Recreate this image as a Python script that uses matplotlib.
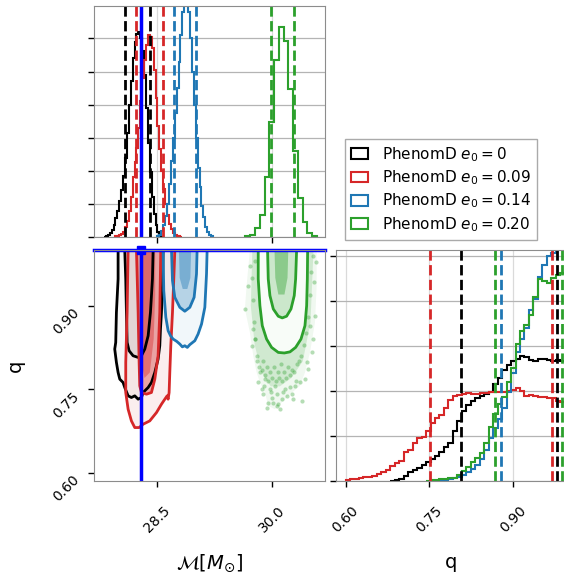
import matplotlib.pyplot as plt
import numpy as np
from matplotlib.patches import Patch

labels = [r'PhenomD $e_0 = 0$', r'PhenomD $e_0 = 0.09$',
          r'PhenomD $e_0 = 0.14$', r'PhenomD $e_0 = 0.20$']
colors = ['black', '#d62728', '#1f77b4', '#2ca02c']

truth_mc = 28.29
truth_q = 1.0

# chirp mass histograms: first bin edge, bin width, heights
mc_start = [27.800, 27.925, 28.500, 29.650]
mc_width = [0.025, 0.025, 0.025, 0.0624]
mc_black = [0.0, 0.02, 0.06, 0.11, 0.22, 0.37, 0.57, 0.80, 1.08, 1.42, 1.85, 2.40, 3.15, 3.98,
            4.72, 5.42, 5.90, 6.12, 6.19, 6.02, 5.62, 4.88, 3.90, 2.85, 1.95, 1.22, 0.68, 0.36,
            0.15, 0.05, 0.01]
mc_red = [0.01, 0.02, 0.03, 0.05, 0.08, 0.16, 0.30, 0.48, 0.78, 1.20, 1.80, 2.28, 2.70, 3.30,
          4.10, 4.80, 5.35, 5.80, 6.10, 6.05, 5.70, 5.05, 4.20, 3.35, 2.65, 2.00, 1.45, 1.00,
          0.65, 0.40, 0.24, 0.13, 0.07, 0.04, 0.02, 0.01]
mc_blue = [0.02, 0.07, 0.18, 0.35, 0.62, 1.0, 1.6, 2.3, 3.0, 3.75, 4.5, 5.3, 6.1, 6.8, 7.5,
           7.6, 6.8, 6.0, 5.0, 4.0, 3.0, 2.1, 1.5, 0.95, 0.6, 0.3, 0.15, 0.07, 0.03]
mc_green = [0.02, 0.07, 0.27, 0.67, 1.81, 3.48, 5.34, 6.34, 5.92, 4.46, 2.61, 1.17, 0.44,
            0.12, 0.02]
mc_hists = [mc_black, mc_red, mc_blue, mc_green]

# mass ratio histograms (bin width 0.008)
q_width = 0.008
q_start = [0.680, 0.600, 0.760, 0.744]
q_black = [0.01, 0.02, 0.04, 0.12, 0.19, 0.24, 0.29, 0.36, 0.43, 0.49, 0.56, 0.64, 0.75, 0.85,
           1.12, 1.33, 1.56, 1.70, 1.79, 1.84, 1.89, 1.93, 1.99, 2.15, 2.30, 2.47, 2.58, 2.66,
           2.72, 2.78, 2.76, 2.70, 2.68, 2.71, 2.72, 2.69, 2.68, 2.70, 2.68, 2.58]
q_red = [0.02, 0.04, 0.05, 0.06, 0.08, 0.10, 0.12, 0.15, 0.19, 0.24, 0.33, 0.40, 0.45, 0.64,
         0.70, 0.85, 0.96, 0.99, 1.12, 1.30, 1.40, 1.46, 1.62, 1.80, 1.90, 1.92, 1.93, 1.95,
         1.94, 1.93, 1.95, 1.96, 1.97, 1.99, 1.98, 1.99, 2.00, 2.03, 2.07, 2.00, 1.89, 1.92,
         1.90, 1.88, 1.87, 1.85, 1.84, 1.77, 1.75, 1.72]
q_blue = [0.01, 0.02, 0.03, 0.04, 0.06, 0.09, 0.14, 0.19, 0.26, 0.36, 0.50, 0.70, 0.96, 1.18,
          1.38, 1.62, 1.98, 2.40, 2.88, 3.15, 3.40, 3.80, 4.05, 4.55, 4.80, 5.00, 5.08, 5.20,
          5.30, 5.35]
q_green = [0.01, 0.02, 0.03, 0.04, 0.05, 0.06, 0.07, 0.13, 0.22, 0.31, 0.42, 0.52, 0.62, 0.85,
           1.20, 1.50, 1.72, 1.88, 2.20, 2.52, 3.05, 3.33, 3.47, 3.70, 4.10, 4.50, 4.45, 4.40,
           4.52, 4.58, 4.62, 4.65]
q_hists = [q_black, q_red, q_blue, q_green]

# dashed credible bounds
mc_lo = [28.081, 28.225, 28.713, 29.979]
mc_hi = [28.408, 28.569, 29.005, 30.288]
q_lo = [0.806, 0.7505, 0.878, 0.8665]
q_hi = [0.979, 0.9695, 0.999, 0.9867]

# 2D contours (Mc, q), open at q = 1
black_outer = [(27.985, 1.0), (27.985, 0.948), (27.963, 0.888), (27.954, 0.834), (27.941, 0.822),
               (27.963, 0.798), (27.985, 0.780), (28.007, 0.768), (28.050, 0.762), (28.072, 0.753),
               (28.116, 0.738), (28.159, 0.735), (28.203, 0.738), (28.247, 0.732), (28.290, 0.735),
               (28.312, 0.744), (28.378, 0.753), (28.421, 0.762), (28.465, 0.780), (28.508, 0.804),
               (28.530, 0.828), (28.539, 0.858), (28.552, 0.888), (28.565, 0.936), (28.574, 1.0)]
black_inner = [(28.072, 1.0), (28.085, 0.948), (28.094, 0.888), (28.103, 0.834), (28.129, 0.819),
               (28.181, 0.810), (28.247, 0.807), (28.290, 0.810), (28.334, 0.822), (28.378, 0.846),
               (28.408, 0.888), (28.434, 0.948), (28.443, 1.0)]
red_outer = [(28.116, 1.0), (28.103, 0.888), (28.085, 0.798), (28.085, 0.744), (28.116, 0.714),
             (28.159, 0.693), (28.203, 0.681), (28.260, 0.681), (28.312, 0.687), (28.399, 0.693),
             (28.487, 0.708), (28.552, 0.723), (28.596, 0.732), (28.626, 0.738), (28.639, 0.732),
             (28.652, 0.744), (28.661, 0.780), (28.674, 0.828), (28.696, 0.888), (28.713, 0.948),
             (28.727, 1.0)]
red_inner = [(28.225, 1.0), (28.247, 0.888), (28.260, 0.798), (28.268, 0.756), (28.290, 0.744),
             (28.356, 0.741), (28.421, 0.744), (28.465, 0.768), (28.508, 0.810), (28.530, 0.888),
             (28.543, 1.0)]
blue_outer = [(28.573, 1.0), (28.582, 0.927), (28.609, 0.879), (28.639, 0.855), (28.670, 0.846),
              (28.704, 0.840), (28.750, 0.836), (28.792, 0.831), (28.825, 0.826), (28.857, 0.828),
              (28.890, 0.825), (28.923, 0.830), (28.988, 0.837), (29.031, 0.849), (29.076, 0.867),
              (29.119, 0.897), (29.141, 0.957), (29.149, 1.0)]
blue_inner = [(28.683, 1.0), (28.696, 0.945), (28.726, 0.915), (28.792, 0.897), (28.857, 0.890),
              (28.923, 0.897), (28.979, 0.915), (29.010, 0.957), (29.018, 1.0)]
green_outer = [(29.817, 1.0), (29.817, 0.948), (29.839, 0.900), (29.870, 0.864), (29.926, 0.840),
               (29.992, 0.825), (30.079, 0.816), (30.158, 0.815), (30.232, 0.817), (30.306, 0.825),
               (30.376, 0.840), (30.428, 0.864), (30.450, 0.900), (30.459, 0.948), (30.463, 1.0)]
green_inner = [(29.939, 1.0), (29.948, 0.948), (29.970, 0.918), (30.014, 0.894), (30.079, 0.881),
               (30.131, 0.878), (30.188, 0.881), (30.245, 0.894), (30.288, 0.918), (30.306, 0.948),
               (30.319, 1.0)]
outer_contours = [black_outer, red_outer, blue_outer, green_outer]
inner_contours = [black_inner, red_inner, blue_inner, green_inner]

# density cores (strongest shading)
red_core = [(28.29, 1.0), (28.28, 0.88), (28.29, 0.80), (28.33, 0.77), (28.40, 0.78),
            (28.45, 0.84), (28.47, 0.92), (28.47, 1.0)]
blue_core = [(28.78, 1.0), (28.79, 0.95), (28.83, 0.93), (28.89, 0.93), (28.93, 0.95), (28.94, 1.0)]
green_core = [(30.03, 1.0), (30.04, 0.95), (30.08, 0.92), (30.16, 0.92), (30.20, 0.95), (30.21, 1.0)]

# green samples outside the outer contour
green_cloud = [(29.708, 1.0), (29.665, 0.936), (29.643, 0.894), (29.708, 0.852), (29.752, 0.810),
               (29.796, 0.780), (29.839, 0.762), (29.905, 0.744), (29.948, 0.720), (30.035, 0.714),
               (30.123, 0.726), (30.232, 0.741), (30.363, 0.756), (30.428, 0.780), (30.494, 0.816),
               (30.559, 0.870), (30.581, 0.936), (30.581, 1.0)]
green_band = [(29.74, 1.0), (29.72, 0.90), (29.77, 0.83), (29.86, 0.78), (29.98, 0.755),
              (30.10, 0.755), (30.25, 0.77), (30.40, 0.80), (30.50, 0.87), (30.54, 1.0)]
green_pts_mc = [29.926, 30.057, 30.079, 29.948, 30.254, 30.384, 29.883, 29.817, 29.992, 30.145,
                30.297, 29.795, 30.537, 30.559, 29.643, 29.686, 30.550, 30.472, 30.428, 30.188,
                29.861, 30.014, 30.275, 29.905, 30.363, 29.730, 30.515, 29.752, 30.494, 29.708,
                30.568, 30.035, 30.123, 29.970, 30.232, 29.839, 30.450, 29.774, 30.101,
                29.80, 29.83, 29.86, 29.88, 29.90, 29.93, 29.95, 29.97, 30.00, 30.02,
                30.05, 30.07, 30.09, 30.11, 30.13, 30.16, 30.18, 30.20, 30.23, 30.26,
                30.29, 30.32, 30.35, 30.38, 30.41, 30.44, 30.47, 30.49, 30.51, 29.78,
                29.76, 29.75, 29.74, 29.77, 30.53, 29.99, 30.06, 30.17, 30.31, 29.89]
green_pts_q = [0.717, 0.720, 0.723, 0.726, 0.741, 0.729, 0.741, 0.762, 0.735, 0.744,
               0.756, 0.810, 0.840, 0.882, 0.894, 0.936, 0.942, 0.786, 0.768, 0.738,
               0.750, 0.726, 0.732, 0.768, 0.762, 0.828, 0.816, 0.858, 0.864, 0.972,
               0.978, 0.756, 0.732, 0.750, 0.753, 0.780, 0.798, 0.840, 0.714,
               0.800, 0.790, 0.785, 0.800, 0.775, 0.790, 0.765, 0.780, 0.770, 0.790,
               0.765, 0.780, 0.770, 0.795, 0.765, 0.780, 0.770, 0.790, 0.775, 0.785,
               0.780, 0.795, 0.800, 0.810, 0.830, 0.850, 0.880, 0.920, 0.960, 0.840,
               0.870, 0.910, 0.950, 0.980, 0.990, 0.745, 0.742, 0.750, 0.765, 0.755]

mc_ticks = [28.5, 30.0]
q_ticks = [0.60, 0.75, 0.90]

W, H = 564, 577
fig = plt.figure(figsize=(W / 100, H / 100), dpi=100)


def add_px_axes(x0, y0, x1, y1):
    return fig.add_axes([x0 / W, 1 - y1 / H, (x1 - x0) / W, (y1 - y0) / H])


ax_top = add_px_axes(94, 6, 325, 237)
ax_2d = add_px_axes(94, 250, 325, 481)
ax_right = add_px_axes(336, 250, 567, 481)

for ax in (ax_top, ax_2d, ax_right):
    for s in ax.spines.values():
        s.set_color('#8c8c8c')
    ax.tick_params(direction='out', length=4, width=1, labelsize=10, pad=5)

# top: chirp mass marginal
for vals, start, w, c in zip(mc_hists, mc_start, mc_width, colors):
    edges = start + w * np.arange(len(vals) + 1)
    ax_top.stairs(vals, edges, color=c, lw=1.5)
for lo, hi, c in zip(mc_lo, mc_hi, colors):
    ax_top.axvline(lo, color=c, ls='--', lw=2)
    ax_top.axvline(hi, color=c, ls='--', lw=2)
ax_top.axvline(truth_mc, color='blue', lw=2.5)
ax_top.set_xlim(27.67, 30.69)
ax_top.set_ylim(0, 6.98)
ax_top.set_xticks(mc_ticks)
ax_top.set_yticks(range(7))
ax_top.tick_params(labelbottom=False, labelleft=False)
ax_top.yaxis.grid(True, color='#b4b4b4', lw=0.9)
ax_top.xaxis.grid(True, color='#dadada', lw=0.9)
ax_top.set_axisbelow(True)

# 2D panel
gx, gy = zip(*green_cloud)
ax_2d.fill(gx, gy, color=colors[3], alpha=0.07, lw=0)
gx, gy = zip(*green_band)
ax_2d.fill(gx, gy, color=colors[3], alpha=0.16, lw=0)
ax_2d.scatter(green_pts_mc, green_pts_q, s=9, color=colors[3], alpha=0.35, lw=0)
gx, gy = zip(*green_outer)
ax_2d.fill(gx, gy, color='white', lw=0)

outer_alpha = [0.03, 0.08, 0.06, 0.03]
inner_alpha = [0.07, 0.35, 0.28, 0.22]
for cont, a, c in zip(outer_contours, outer_alpha, colors):
    x, y = zip(*cont)
    ax_2d.fill(x, y, color=c, alpha=a, lw=0)
for cont, a, c in zip(inner_contours, inner_alpha, colors):
    x, y = zip(*cont)
    ax_2d.fill(x, y, color=c, alpha=a, lw=0)
for core, c in zip([red_core, blue_core, green_core], colors[1:]):
    x, y = zip(*core)
    ax_2d.fill(x, y, color=c, alpha=0.4, lw=0)
for cont_o, cont_i, c in zip(outer_contours, inner_contours, colors):
    for cont in (cont_o, cont_i):
        x, y = zip(*cont)
        ax_2d.plot(x, y, color=c, lw=2)

ax_2d.axvline(truth_mc, color='blue', lw=2.5)
ax_2d.axhline(truth_q, color='blue', lw=2.5, clip_on=False)
ax_2d.plot(truth_mc, truth_q, 's', color='blue', ms=6, clip_on=False)
ax_2d.set_xlim(27.67, 30.69)
ax_2d.set_ylim(0.585, 1.0)
ax_2d.set_xticks(mc_ticks, labels=['28.5', '30.0'], rotation=45)
ax_2d.set_yticks(q_ticks, labels=['0.60', '0.75', '0.90'], rotation=45, va='top')
ax_2d.tick_params(axis='x', pad=12)
ax_2d.set_xlabel(r'$\mathcal{M}[M_{\odot}]$', fontsize=14)
ax_2d.set_ylabel('q', fontsize=14)
ax_2d.xaxis.set_label_coords(0.5, -0.31)
ax_2d.yaxis.set_label_coords(-0.30, 0.5)

# right: mass ratio marginal
for vals, start, c in zip(q_hists, q_start, colors):
    edges = start + q_width * np.arange(len(vals) + 1)
    ax_right.stairs(vals, edges, color=c, lw=1.5)
for lo, hi, c in zip(q_lo, q_hi, colors):
    ax_right.axvline(lo, color=c, ls='--', lw=2)
    ax_right.axvline(hi, color=c, ls='--', lw=2)
ax_right.set_xlim(0.583, 0.996)
ax_right.set_ylim(0, 5.14)
ax_right.set_xticks(q_ticks, labels=['0.60', '0.75', '0.90'], rotation=45)
ax_right.set_yticks(range(6))
ax_right.tick_params(labelleft=False)
ax_right.tick_params(axis='x', pad=12)
ax_right.yaxis.grid(True, color='#b4b4b4', lw=0.9)
ax_right.xaxis.grid(True, color='#dadada', lw=0.9)
ax_right.set_axisbelow(True)
ax_right.set_xlabel('q', fontsize=14)
ax_right.xaxis.set_label_coords(0.5, -0.31)

handles = [Patch(facecolor='none', edgecolor=c, lw=1.5) for c in colors]
fig.legend(handles, labels, loc='upper left', bbox_to_anchor=(345 / W, 1 - 139 / H),
           fontsize=11, handlelength=1.1, handletextpad=0.9, fancybox=False,
           edgecolor='#aaaaaa', framealpha=1, borderpad=0.4, borderaxespad=0,
           labelspacing=0.3)

fig.savefig('out.png', dpi=100)
